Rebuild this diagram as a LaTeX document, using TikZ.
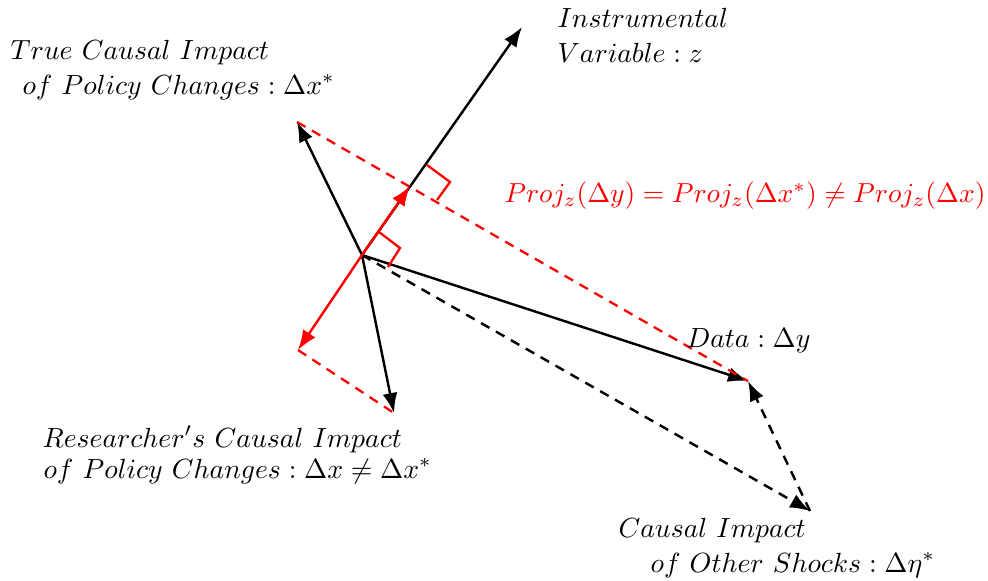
\documentclass[tikz,border=0pt]{standalone}
\usetikzlibrary{arrows.meta}
\newcommand{\mylbl}[2][0.97]{\scalebox{#1}{$#2$}}
\begin{document}
\begin{tikzpicture}[x=0.35pt,y=-0.35pt,
  vec/.style={line width=0.85pt,-{Latex[length=7pt,width=5.2pt]}},
  rvec/.style={vec,red},
  dvec/.style={vec,dash pattern=on 3.4pt off 2.6pt},
  rdash/.style={red,line width=0.8pt,dash pattern=on 3.4pt off 2.6pt},
  rmark/.style={red,line width=0.8pt},
  lbl/.style={inner sep=0pt,anchor=base west}]
\useasboundingbox (0,0) rectangle (988,580);
% points
\coordinate (O) at (362,255);
\coordinate (Z) at (522,27);
\coordinate (Xs) at (297,122);
\coordinate (X) at (394,413);
\coordinate (Y) at (748,381);
\coordinate (E) at (810,511);
\coordinate (Pz) at (410,186);
\coordinate (Pn) at (298,350);
% black vectors
\draw[vec] (O) -- (Z);
\draw[vec] (O) -- (Xs);
\draw[vec] (O) -- (X);
\draw[vec] (O) -- (Y);
\draw[dvec] (O) -- (E);
\draw[dvec] (E) -- (Y);
% red projections
\draw[rdash] (Xs) -- (Y);
\draw[rdash] (Pn) -- (X);
\draw[rvec] (O) -- (Pz);
\draw[rvec] (O) -- (Pn);
% right-angle marks
\draw[rmark] (427,165) -- (450,182) -- (437,200);
\draw[rmark] (379,232) -- (400,248) -- (388,267);
% labels
\node[lbl] (lz1) at (557,27) {\mylbl{Instrumental}};
\node[lbl] (lz2) at (557,62) {\mylbl{Variable: z}};
\node[lbl] (lt1) at (10,59) {\mylbl{True\ Causal\ Impact}};
\node[lbl] (lt2) at (22,94) {\mylbl{of\ Policy\ Changes: \Delta x^{*}}};
\node[lbl,text=red] (lp) at (504,202) {\mylbl[0.963]{Proj_z(\Delta y) = Proj_z(\Delta x^{*}) \neq Proj_z(\Delta x)}};
\node[lbl] (ld) at (686,347) {\mylbl{Data: \Delta y}};
\node[lbl] (lr1) at (42,447) {\mylbl{Researcher's\ Causal\ Impact}};
\node[lbl] (lr2) at (43,478) {\mylbl{of\ Policy\ Changes: \Delta x \neq \Delta x^{*}}};
\node[lbl] (le1) at (618,537) {\mylbl{Causal\ Impact}};
\node[lbl] (le2) at (650,572) {\mylbl{of\ Other\ Shocks: \Delta\eta^{*}}};
\end{tikzpicture}
\end{document}
